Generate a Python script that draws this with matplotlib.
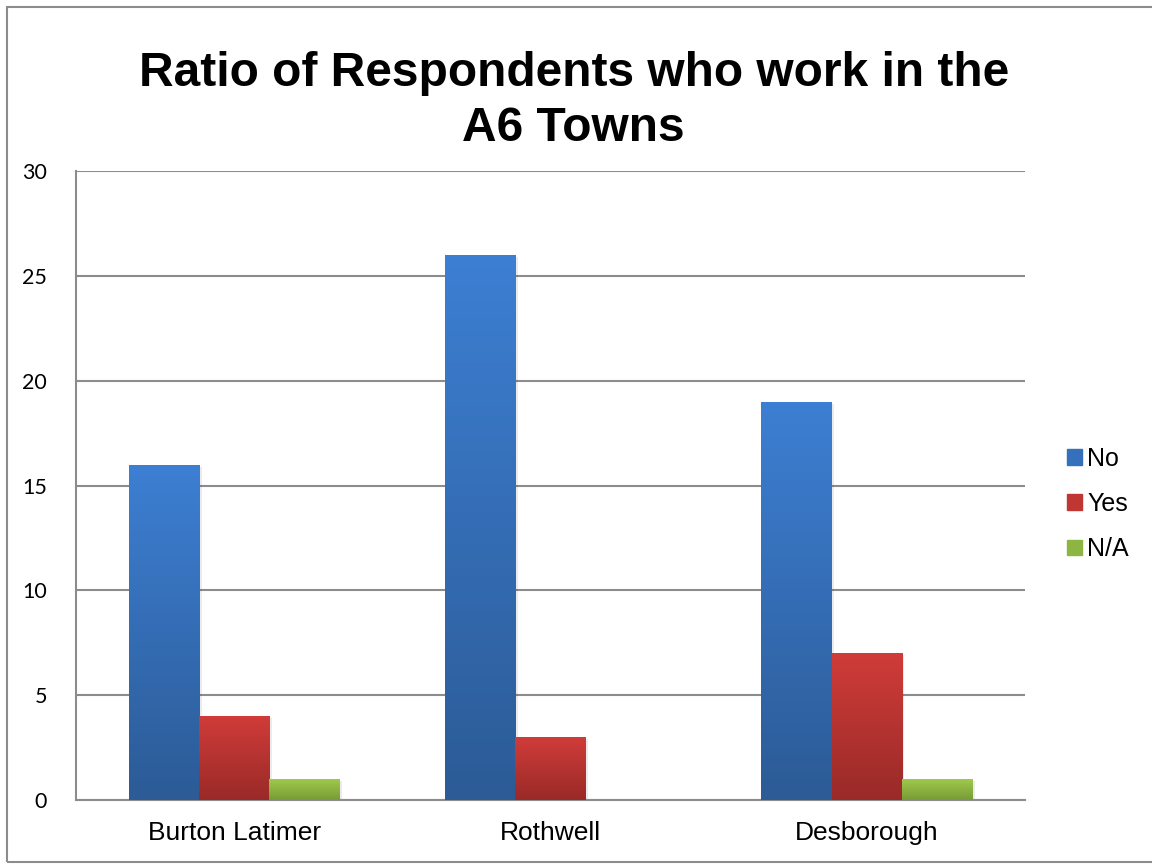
import numpy as np
import matplotlib
matplotlib.use("Agg")
import matplotlib.pyplot as plt
from matplotlib.colors import LinearSegmentedColormap
from matplotlib.patches import Rectangle

categories = ["Burton Latimer", "Rothwell", "Desborough"]
series_names = ["No", "Yes", "N/A"]
no_vals = [16, 26, 19]
yes_vals = [4, 3, 7]
na_vals = [1, 0, 1]
yticks = [0, 5, 10, 15, 20, 25, 30]

colors_top = ["#3D7FD3", "#D03C39", "#9FCA4C"]
colors_bot = ["#2C5B96", "#992A28", "#789B36"]

plt.rcParams['font.family'] = ['Liberation Sans', 'DejaVu Sans']

fig = plt.figure(figsize=(11.52, 8.64), dpi=100)
ax = fig.add_axes([76/1152, 64/864, 949/1152, 629/864])

x = np.arange(len(categories))
width = 0.222
offsets = [-width, 0, width]
all_vals = [no_vals, yes_vals, na_vals]

grad = np.linspace(1, 0, 256).reshape(-1, 1)
for i, (vals, name) in enumerate(zip(all_vals, series_names)):
    bars = ax.bar(x + offsets[i], vals, width, color=colors_top[i], label=name, zorder=3, linewidth=0)
    cmap = LinearSegmentedColormap.from_list("g%d" % i, [colors_bot[i], colors_top[i]])
    for b in bars:
        h = b.get_height()
        if h <= 0:
            continue
        x0 = b.get_x(); w = b.get_width()
        ax.add_patch(Rectangle((x0 + 0.008, 0), w, h - 0.1, color="#000000", alpha=0.08, zorder=2, linewidth=0))
        im = ax.imshow(grad, extent=(x0, x0 + w, 0, h), aspect='auto', cmap=cmap, vmin=0, vmax=1, zorder=4)
        im.set_clip_path(b)

ax.set_xlim(-0.5, 2.5)
ax.set_ylim(0, 30)
ax.set_yticks(yticks)
ax.set_xticks(x)
ax.set_xticklabels(categories, fontsize=19)
for lab in ax.get_yticklabels():
    lab.set_fontfamily(['Lato', 'DejaVu Sans'])
    lab.set_fontsize(15.5)
ax.tick_params(axis='y', length=0, pad=21)
ax.tick_params(axis='x', length=0, pad=15)
ax.grid(axis='y', color='#8C8C8C', linewidth=1.5, zorder=0)
for s in ['top', 'right']:
    ax.spines[s].set_visible(False)
for s in ['left', 'bottom']:
    ax.spines[s].set_color('#8C8C8C')
    ax.spines[s].set_linewidth(1.5)

fig.text(0.498, 1 - 101/864, "Ratio of Respondents who work in the\nA6 Towns", fontsize=34.5,
         fontweight='bold', ha='center', va='center', linespacing=1.3)

handles = [Rectangle((0, 0), 1, 1, color=c) for c in ["#3470BC", "#C03633", "#8DB542"]]
leg = fig.legend(handles, series_names, loc='center left', bbox_to_anchor=(1057/1152, 1 - 504/864),
                 frameon=False, fontsize=18, handlelength=0.6, handleheight=0.6,
                 handletextpad=0.2, labelspacing=0.85, borderaxespad=0)

fig.add_artist(Rectangle((7/1152, 2/864), 1200/1152, 855/864, transform=fig.transFigure,
                         fill=False, edgecolor='#8C8C8C', linewidth=1.5))

fig.savefig("out.png", dpi=100)
